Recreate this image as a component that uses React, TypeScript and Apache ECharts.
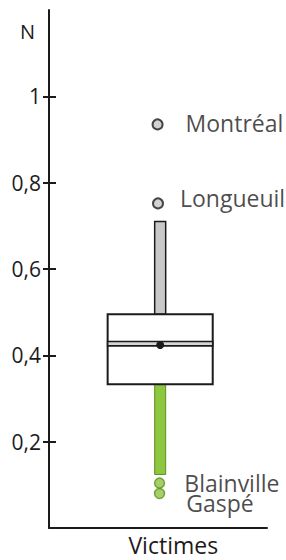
import React, { useEffect, useRef } from 'react';
import * as echarts from 'echarts';

const categories = ['Victimes'];
const boxX = [0.51];
const whiskerLow = [0.124];
const q1 = [0.333];
const median = [0.427];
const q3 = [0.495];
const whiskerHigh = [0.71];
const mean = [0.424];

const outlierNames = ['Montréal', 'Longueuil', 'Blainville', 'Gaspé'];
const outlierValues = [0.935, 0.752, 0.104, 0.08];
const outlierX = [0.498, 0.5, 0.507, 0.507];
const outlierGroup = ['high', 'high', 'low', 'low'];

const yTicks = [0.2, 0.4, 0.6, 0.8, 1];
const yName = 'N';

const INK = '#1d1a1b';
const FONT = '"Open Sans", "Noto Sans", sans-serif';
const WEIGHT = 500;
const GRAY = '#c8c8c8';
const GREEN = '#8dc63f';
const GREEN_DARK = '#5f8f22';

const labelTweaks: Record<string, { distance: number; offset: [number, number] }> = {
  'Montréal': { distance: 22, offset: [0, -1] },
  'Longueuil': { distance: 16, offset: [0, -5] },
  'Blainville': { distance: 19, offset: [0, 0] },
  'Gaspé': { distance: 21, offset: [0, 10] },
};

export default function App() {
  const ref = useRef<HTMLDivElement>(null);
  useEffect(() => {
    const chart = echarts.init(ref.current!, null, { renderer: 'svg' });
    const fmt = (v: number) => String(Math.round(v * 10) / 10).replace('.', ',');

    const boxData = boxX.map((x, i) => [x, whiskerLow[i], q1[i], median[i], q3[i], whiskerHigh[i], mean[i]]);

    const outlierData = outlierNames.map((name, i) => {
      const low = outlierGroup[i] === 'low';
      const t = labelTweaks[name];
      return {
        name,
        value: [outlierX[i], outlierValues[i]],
        itemStyle: low
          ? { color: GREEN, borderColor: GREEN_DARK, borderWidth: 1.5 }
          : { color: GRAY, borderColor: INK, borderWidth: 2 },
        label: {
          show: true,
          position: 'right',
          distance: t.distance,
          offset: t.offset,
          formatter: name,
          color: INK,
          fontSize: 23,
          fontWeight: WEIGHT,
          fontFamily: FONT,
        },
      };
    });

    const option: any = {
      animation: false,
      grid: { left: 49, right: 19, top: 10, bottom: 32 },
      xAxis: {
        type: 'value',
        min: 0,
        max: 1,
        axisLine: { show: true, onZero: false, lineStyle: { color: INK, width: 2 } },
        axisTick: { show: false },
        splitLine: { show: false },
        axisLabel: {
          customValues: [0.57],
          formatter: () => categories[0],
          color: INK,
          fontSize: 23,
          fontWeight: WEIGHT,
          fontFamily: FONT,
          margin: 5,
        },
      },
      yAxis: [
        {
          type: 'value',
          min: 0,
          max: 1.2,
          name: yName,
          nameLocation: 'end',
          nameGap: -21,
          nameTextStyle: {
            color: INK,
            fontSize: 20,
            fontWeight: WEIGHT,
            fontFamily: FONT,
            align: 'right',
            verticalAlign: 'middle',
            padding: [0, 14, 0, 0],
          },
          axisLine: { show: true, lineStyle: { color: INK, width: 2 } },
          axisTick: { show: true, customValues: yTicks, length: 6, lineStyle: { color: INK, width: 2 } },
          splitLine: { show: false },
          axisLabel: {
            customValues: yTicks,
            formatter: (v: number) => fmt(v),
            color: INK,
            fontSize: 21,
            fontWeight: WEIGHT,
            fontFamily: FONT,
            margin: 8,
          },
        },
        {
          type: 'value',
          min: 0,
          max: 1.2,
          position: 'left',
          axisLine: { show: false },
          axisTick: { show: true, inside: true, customValues: yTicks, length: 7, lineStyle: { color: INK, width: 2 } },
          axisLabel: { show: false },
          splitLine: { show: false },
        },
      ],
      series: [
        {
          type: 'custom',
          data: boxData,
          renderItem: (params: any, api: any) => {
            const x = api.value(0);
            const c = (v: number) => api.coord([x, v]);
            const cx = c(0)[0];
            const boxW = api.size([0.482, 0])[0];
            const wW = 11;
            const yWL = c(api.value(1))[1];
            const yQ1 = c(api.value(2))[1];
            const yMed = c(api.value(3))[1];
            const yQ3 = c(api.value(4))[1];
            const yWH = c(api.value(5))[1];
            const yMean = c(api.value(6))[1];
            return {
              type: 'group',
              children: [
                {
                  type: 'rect',
                  shape: { x: cx - wW / 2, y: yWH, width: wW, height: yQ3 - yWH },
                  style: { fill: GRAY, stroke: INK, lineWidth: 1.5 },
                },
                {
                  type: 'rect',
                  shape: { x: cx - wW / 2, y: yQ1, width: wW, height: yWL - yQ1 },
                  style: { fill: GREEN, stroke: GREEN_DARK, lineWidth: 1 },
                },
                {
                  type: 'rect',
                  shape: { x: cx - boxW / 2, y: yQ3, width: boxW, height: yQ1 - yQ3 },
                  style: { fill: '#ffffff', stroke: INK, lineWidth: 2 },
                },
                {
                  type: 'rect',
                  shape: { x: cx - boxW / 2, y: yMed - 2.2, width: boxW, height: 4.4 },
                  style: { fill: '#d6d6d6', stroke: INK, lineWidth: 1.6 },
                },
                {
                  type: 'circle',
                  shape: { cx, cy: yMean, r: 4 },
                  style: { fill: INK },
                },
              ],
            };
          },
        },
        {
          type: 'scatter',
          symbol: 'circle',
          symbolSize: 10,
          data: outlierData,
          z: 5,
        },
      ],
    };
    chart.setOption(option);
    return () => chart.dispose();
  }, []);
  return <div ref={ref} style={{ width: 286, height: 560, position: 'absolute', left: 0, top: 0, background: '#fff' }} />;
}
